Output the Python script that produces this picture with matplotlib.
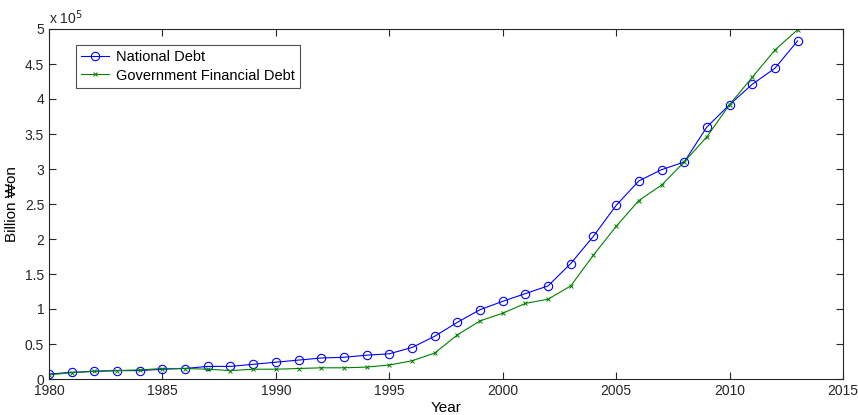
import matplotlib
matplotlib.use("Agg")
import matplotlib.pyplot as plt
from matplotlib.ticker import MultipleLocator, FuncFormatter

plt.rcParams['font.family'] = ['Liberation Sans', 'DejaVu Sans']

# data (units of 1e5 billion won)
years = list(range(1980, 2014))
national_debt = [0.07, 0.095, 0.11, 0.12, 0.12, 0.14, 0.15, 0.18, 0.18, 0.21,
                 0.24, 0.27, 0.30, 0.31, 0.34, 0.36, 0.45, 0.61, 0.81, 0.99,
                 1.11, 1.22, 1.33, 1.65, 2.04, 2.48, 2.83, 2.99, 3.10, 3.60,
                 3.92, 4.21, 4.44, 4.83]
gov_financial_debt = [0.06, 0.09, 0.11, 0.12, 0.13, 0.15, 0.15, 0.14, 0.12, 0.14,
                      0.14, 0.15, 0.16, 0.16, 0.17, 0.20, 0.26, 0.37, 0.63, 0.83,
                      0.94, 1.08, 1.14, 1.33, 1.77, 2.18, 2.55, 2.77, 3.10, 3.46,
                      3.92, 4.31, 4.70, 4.99]
scale = 1e5

fig = plt.figure(figsize=(8.58, 4.15), dpi=100)
ax = fig.add_axes([49/858, 36/415, 794/858, 350/415])

ax.plot(years, [v * scale for v in national_debt], color='#0000ff', lw=0.8,
        marker='o', markersize=6, markerfacecolor='none', markeredgewidth=0.8,
        label='National Debt')
ax.plot(years, [v * scale for v in gov_financial_debt], color='#008000', lw=0.8,
        marker='x', markersize=3.5, markeredgewidth=0.7,
        label='Government Financial Debt')

ax.set_xlim(1980, 2015)
ax.set_ylim(0, 5e5)
ax.xaxis.set_major_locator(MultipleLocator(5))
ax.yaxis.set_major_locator(MultipleLocator(0.5e5))
ax.yaxis.set_major_formatter(FuncFormatter(lambda v, p: ('%g' % (v / scale))))
ax.tick_params(direction='in', top=True, right=True, length=5, labelsize=10,
               colors='#262626', width=0.8)
for s in ax.spines.values():
    s.set_color('#262626')
    s.set_linewidth(0.8)

ax.text(0, 1.005, r'x 10$^{5}$', transform=ax.transAxes, fontsize=10,
        va='bottom', ha='left', color='#262626')

ax.set_xlabel('Year', fontsize=11, labelpad=2)
ax.set_ylabel('Billion ₩on', fontsize=11, labelpad=4)

leg = ax.legend(loc='upper left', bbox_to_anchor=(0.025, 0.975), fontsize=10.5,
                frameon=True, fancybox=False, edgecolor='#262626',
                handlelength=1.9, handletextpad=0.5, borderpad=0.35,
                labelspacing=0.3)
leg.get_frame().set_linewidth(0.8)

fig.savefig('out.png', dpi=100)
